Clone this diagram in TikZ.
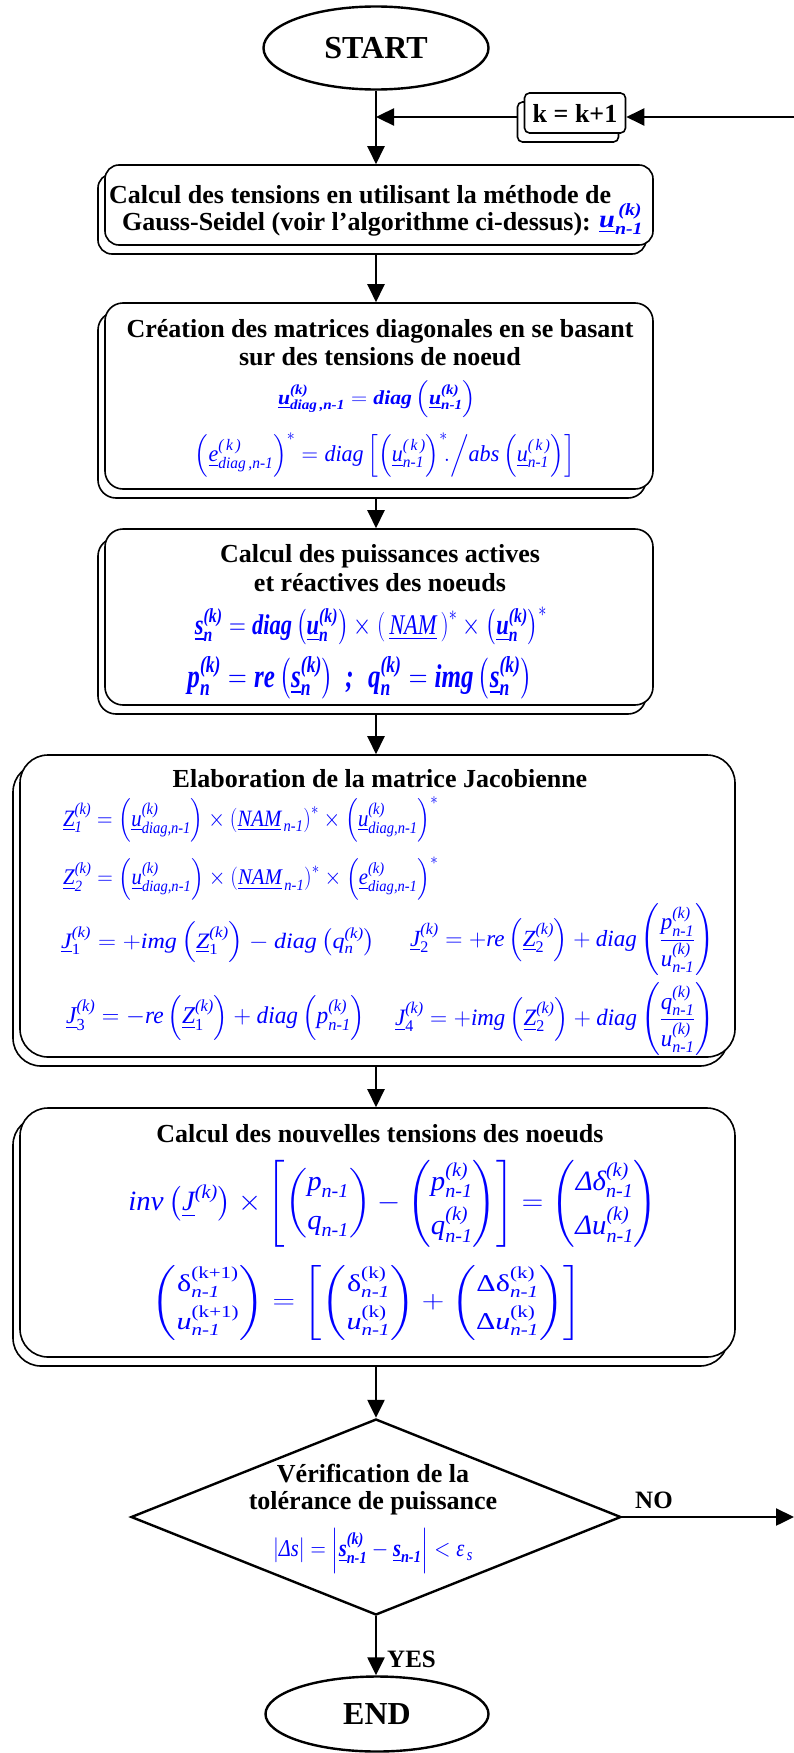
\documentclass[tikz,border=0pt]{standalone}
\usepackage{amsmath}
\usepackage{graphicx}
\usepackage{fontspec}
\setmainfont{Liberation Serif}
\usetikzlibrary{shapes.geometric,arrows.meta,shadows}
\definecolor{fblue}{RGB}{0,0,255}
\newcommand\fb[1]{\text{\normalfont\bfseries\itshape #1}}
\newcommand\fr[1]{\text{\normalfont\itshape #1}}
\newcommand\fu[1]{\text{\normalfont #1}}
\newcommand\fml[3]{\resizebox*{#1}{#2}{$\displaystyle #3$}}
\begin{document}
\begin{tikzpicture}[x=1pt,y=-1pt,
  txt/.style={font=\fontsize{26}{29}\selectfont\bfseries, inner sep=0pt},
  fm/.style={text=fblue, inner sep=0pt, font=\fontsize{24}{28}\selectfont},
  term/.style={ellipse, draw, line width=2.4pt, inner sep=0pt, font=\fontsize{32}{36}\selectfont\bfseries},
  pbox/.style={draw, line width=1.6pt, fill=white, rounded corners=#1, inner sep=0pt,
     copy shadow={shadow xshift=-7pt, shadow yshift=-9pt, draw, fill=white, line width=1.6pt}},
  arr/.style={line width=2.4pt, -{Triangle[length=18pt,width=17pt]}},
]
\useasboundingbox (0,0) rectangle (794,1753);
\coordinate (ax) at (376,0);

% terminals
\node[term, minimum width=225pt, minimum height=83pt] (startn) at (376,48) {START};
\node[term, minimum width=223pt, minimum height=75pt] (endn) at (377,1714) {END};

% k = k+1
\node[pbox=5pt, minimum width=101pt, minimum height=40pt, font=\fontsize{26}{29}\selectfont\bfseries] (kbox) at (575,113) {k = k+1};

% box 1
\node[pbox=14pt, minimum width=548pt, minimum height=80pt] (b1) at (379,205) {};
\node[txt, anchor=base west] (b1t1) at (109,203) {Calcul des tensions en utilisant la méthode de};
\node[txt, anchor=base west] (b1t2) at (122,230) {Gauss-Seidel (voir l’algorithme ci-dessus):};
\node[fm, anchor=west] (b1f) at (599,219) {\fml{44pt}{31pt}{\underline{\fb{u}}^{\,\fb{(k)}}_{\fb{n-1}}}};

% box 2
\node[pbox=18pt, minimum width=548pt, minimum height=186pt] (b2) at (379,396) {};
\node[txt, anchor=base] (b2t1) at (380,337) {Création des matrices diagonales en se basant};
\node[txt, anchor=base] (b2t2) at (380,365) {sur des tensions de noeud};
\node[fm] (b2f1) at (377,399) {\fml{198pt}{37pt}{\underline{\fb{u}}^{\fb{(k)}}_{\fb{diag\,,n-1}} = \fb{diag}\left(\underline{\fb{u}}^{\fb{(k)}}_{\fb{n-1}}\right)}};
\node[fm] (b2f2) at (385,455) {\fml{380pt}{44pt}{\left(\underline{\fr{e}}^{\fr{(\,k\,)}}_{\fr{diag\,,n-1}}\right)^{*} = \fr{diag}\left[\left(\underline{\fr{u}}^{\fr{(\,k\,)}}_{\fr{n-1}}\right)^{*}\!\!.\Big/\fr{abs}\left(\underline{\fr{u}}^{\fr{(\,k\,)}}_{\fr{n-1}}\right)\right]}};

% box 3
\node[pbox=18pt, minimum width=548pt, minimum height=176pt] (b3) at (379,617) {};
\node[txt, anchor=base] (b3t1) at (380,562) {Calcul des puissances actives};
\node[txt, anchor=base] (b3t2) at (380,591) {et réactives des noeuds};
\node[fm] (b3f1) at (371,626) {\fml{352pt}{38pt}{\underline{\fb{s}}^{\fb{(k)}}_{\fb{n}} = \fb{diag}\left(\underline{\fb{u}}^{\fb{(k)}}_{\fb{n}}\right)\times\left(\,\underline{\fr{NAM}}\,\right)^{*}\times\left(\underline{\fb{u}}^{\fb{(k)}}_{\fb{n}}\right)^{*}}};
\node[fm] (b3f2) at (360,678) {\fml{345pt}{42pt}{\fb{p}^{\fb{(k)}}_{\fb{n}} = \fb{re}\left(\underline{\fb{s}}^{\fb{(k)}}_{\fb{n}}\right)\;\fb{;}\;\;\fb{q}^{\fb{(k)}}_{\fb{n}} = \fb{img}\left(\underline{\fb{s}}^{\fb{(k)}}_{\fb{n}}\right)}};

% box 4
\node[pbox=28pt, minimum width=715pt, minimum height=302pt] (b4) at (377.5,906) {};
\node[txt, anchor=base] (b4t) at (380,787) {Elaboration de la matrice Jacobienne};
\node[fm, anchor=west] (z1) at (63,819.5) {\fml{375pt}{45pt}{\underline{\fr{Z}}^{\fr{(k)}}_{\fr{1}} = \left(\underline{\fr{u}}^{\fr{(k)}}_{\fr{diag,n-1}}\right)\times\left(\underline{\fr{NAM}}_{\,\fr{n-1}}\right)^{*}\times\left(\underline{\fr{u}}^{\fr{(k)}}_{\fr{diag,n-1}}\right)^{*}}};
\node[fm, anchor=west] (z2) at (63,878.5) {\fml{375pt}{43pt}{\underline{\fr{Z}}^{\fr{(k)}}_{\fr{2}} = \left(\underline{\fr{u}}^{\fr{(k)}}_{\fr{diag,n-1}}\right)\times\left(\underline{\fr{NAM}}_{\,\fr{n-1}}\right)^{*}\times\left(\underline{\fr{e}}^{\fr{(k)}}_{\fr{diag,n-1}}\right)^{*}}};
\node[fm, anchor=west] (j1) at (61,942.5) {\fml{314pt}{41pt}{\underline{\fr{J}}^{\fr{(k)}}_{\fu{1}} = +\fr{img}\left(\underline{\fr{Z}}^{\fr{(k)}}_{\fu{1}}\right) - \fr{diag}\left(\fr{q}^{\fr{(k)}}_{\fr{n}}\right)}};
\node[fm, anchor=west] (j2) at (410,940) {\fml{304pt}{72pt}{\underline{\fr{J}}^{\fr{(k)}}_{\fu{2}} = +\fr{re}\left(\underline{\fr{Z}}^{\fr{(k)}}_{\fu{2}}\right) + \fr{diag}\left(\frac{\fr{p}^{\fr{(k)}}_{\fr{n-1}}}{\fr{u}^{\fr{(k)}}_{\fr{n-1}}}\right)}};
\node[fm, anchor=west] (j3) at (66,1017.5) {\fml{299pt}{45pt}{\underline{\fr{J}}^{\fr{(k)}}_{\fu{3}} = -\fr{re}\left(\underline{\fr{Z}}^{\fr{(k)}}_{\fu{1}}\right) + \fr{diag}\left(\fr{p}^{\fr{(k)}}_{\fr{n-1}}\right)}};
\node[fm, anchor=west] (j4) at (395,1019.5) {\fml{319pt}{73pt}{\underline{\fr{J}}^{\fr{(k)}}_{\fu{4}} = +\fr{img}\left(\underline{\fr{Z}}^{\fr{(k)}}_{\fu{2}}\right) + \fr{diag}\left(\frac{\fr{q}^{\fr{(k)}}_{\fr{n-1}}}{\fr{u}^{\fr{(k)}}_{\fr{n-1}}}\right)}};

% box 5
\node[pbox=28pt, minimum width=715pt, minimum height=249pt] (b5) at (377.5,1232.5) {};
\node[txt, anchor=base] (b5t) at (380,1142) {Calcul des nouvelles tensions des noeuds};
\node[fm] (b5f1) at (393,1203.5) {\fml{529pt}{87pt}{\fr{inv}\left(\underline{\fr{J}}^{\fr{(k)}}\right)\times\left[\begin{pmatrix}\fr{p}_{\fr{n-1}}\\[6pt]\fr{q}_{\fr{n-1}}\end{pmatrix}-\begin{pmatrix}\fr{p}^{\fr{(k)}}_{\fr{n-1}}\\[6pt]\fr{q}^{\fr{(k)}}_{\fr{n-1}}\end{pmatrix}\right]=\begin{pmatrix}\fr{Δδ}^{\fr{(k)}}_{\fr{n-1}}\\[6pt]\fr{Δu}^{\fr{(k)}}_{\fr{n-1}}\end{pmatrix}}};
\node[fm] (b5f2) at (367,1302.5) {\fml{430pt}{75pt}{\begin{pmatrix}\fu{δ}^{\fu{(k+1)}}_{\fr{n-1}}\\[6pt]\fr{u}^{\fu{(k+1)}}_{\fr{n-1}}\end{pmatrix}=\left[\begin{pmatrix}\fu{δ}^{\fu{(k)}}_{\fr{n-1}}\\[6pt]\fr{u}^{\fu{(k)}}_{\fr{n-1}}\end{pmatrix}+\begin{pmatrix}\fu{Δδ}^{\fu{(k)}}_{\fr{n-1}}\\[6pt]\fu{Δ}\fr{u}^{\fu{(k)}}_{\fr{n-1}}\end{pmatrix}\right]}};

% decision
\node[diamond, draw, line width=2.4pt, minimum width=490pt, minimum height=196pt, inner sep=0pt] (dia) at (376,1517) {};
\node[txt, anchor=base] (dt1) at (373,1482) {Vérification de la};
\node[txt, anchor=base] (dt2) at (373,1509) {tolérance de puissance};
\node[fm, font=\fontsize{20}{24}\selectfont] (df) at (373,1550.5) {\fml{200pt}{45pt}{\left|\fr{Δs}\right| = \left|\underline{\fb{s}}^{\fb{(k)}}_{\fb{n-1}} - \underline{\fb{s}}_{\fb{n-1}}\right| < \fr{ε}_{\,\fr{s}}}};
\node[font=\fontsize{25}{28}\selectfont\bfseries, inner sep=0pt, anchor=base west] (nolab) at (635,1508) {NO};
\node[font=\fontsize{25}{28}\selectfont\bfseries, inner sep=0pt, anchor=base west] (yeslab) at (387,1667) {YES};

% connectors
\coordinate (kin) at (794,117);
\coordinate (noend) at (794,0);
\coordinate (b1s) at ([yshift=-9pt]b1.south);
\coordinate (b2s) at ([yshift=-9pt]b2.south);
\coordinate (b3s) at ([yshift=-9pt]b3.south);
\coordinate (b4s) at ([yshift=-9pt]b4.south);
\coordinate (b5s) at ([yshift=-9pt]b5.south);
\coordinate (kw) at ([xshift=-7pt]kbox.west);
\draw[arr] (startn.south) -- (startn.south |- b1.north);
\draw[arr] (kin) -- (kin -| kbox.east);
\draw[arr] (kw |- kin) -- (kin -| ax);
\draw[arr] (b1s -| ax) -- (ax |- b2.north);
\draw[arr] (b2s -| ax) -- (ax |- b3.north);
\draw[arr] (b3s -| ax) -- (ax |- b4.north);
\draw[arr] (b4s -| ax) -- (ax |- b5.north);
\draw[arr] (b5s -| ax) -- (dia.north);
\draw[arr] (dia.south) -- (dia.south |- endn.north);
\draw[arr] (dia.east) -- (dia.east -| noend);
\end{tikzpicture}
\end{document}
